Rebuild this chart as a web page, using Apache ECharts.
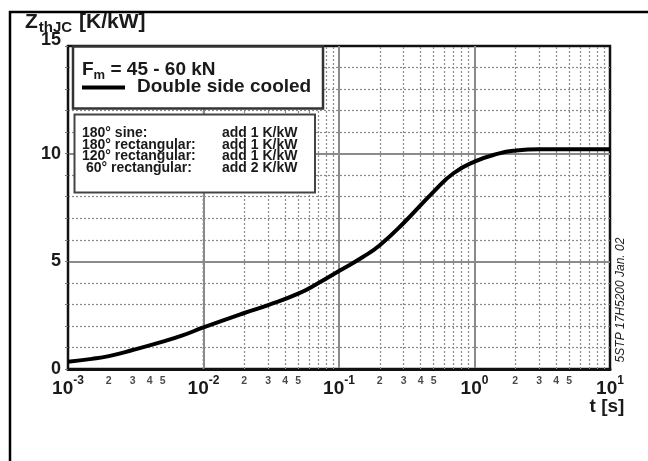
<!DOCTYPE html>
<html>
<head>
<meta charset="utf-8">
<style>
  html, body { margin: 0; padding: 0; background: #fff; }
  #chart { width: 648px; height: 461px; }
</style>
<script src="https://cdn.jsdelivr.net/npm/echarts@6/dist/echarts.min.js"></script>
</head>
<body>
<div id="chart"></div>
<script>
// t [s] vs Zth(j-c) [K/kW]
const timeS = [0.001, 0.0015, 0.002, 0.003, 0.005, 0.007, 0.01, 0.02, 0.03, 0.05, 0.07, 0.1, 0.15, 0.2, 0.3, 0.5, 0.7, 1, 1.5, 2, 3, 5, 10];
const zthJC = [0.34, 0.47, 0.6, 0.88, 1.27, 1.56, 1.93, 2.6, 2.97, 3.5, 3.98, 4.55, 5.2, 5.75, 6.78, 8.24, 9.09, 9.63, 10.0, 10.14, 10.2, 10.2, 10.2];

// dotted minor grid in every decade
const minorT = [
  0.002, 0.003, 0.004, 0.005, 0.006, 0.007, 0.008, 0.009,
  0.02, 0.03, 0.04, 0.05, 0.06, 0.07, 0.08, 0.09,
  0.2, 0.3, 0.4, 0.5, 0.6, 0.7, 0.8, 0.9,
  2, 3, 4, 5, 6, 7, 8, 9
];
// small "2 3 4 5" labels under the axis
const minorLabelT = [0.002, 0.003, 0.004, 0.005, 0.02, 0.03, 0.04, 0.05, 0.2, 0.3, 0.4, 0.5, 2, 3, 4, 5];
const minorLabelText = ['2', '3', '4', '5', '2', '3', '4', '5', '2', '3', '4', '5', '2', '3', '4', '5'];

const noteNames = ['180° sine:', '180° rectangular:', '120° rectangular:', ' 60° rectangular:'];
const noteAdds = ['add 1 K/kW', 'add 1 K/kW', 'add 1 K/kW', 'add 2 K/kW'];

const FONT = 'Liberation Sans';
const INK = '#1a1a1a';

var chart = echarts.init(document.getElementById('chart'));

var noteGraphics = [];
noteNames.forEach(function (n, i) {
  noteGraphics.push({
    type: 'text', x: 82, y: 133 + i * 11.7, silent: true, z: 11,
    style: { text: n, font: 'bold 14px ' + FONT, fill: INK, textVerticalAlign: 'middle' }
  });
  noteGraphics.push({
    type: 'text', x: 222, y: 133 + i * 11.7, silent: true, z: 11,
    style: { text: noteAdds[i], font: 'bold 14px ' + FONT, fill: INK, textVerticalAlign: 'middle' }
  });
});

var option = {
  animation: false,
  backgroundColor: '#fff',
  grid: {
    left: 68, top: 46, width: 542, height: 323,
    show: true, borderColor: '#111', borderWidth: 2.5, backgroundColor: 'transparent'
  },
  xAxis: {
    type: 'log',
    logBase: 10,
    min: 0.001,
    max: 10,
    axisLine: { show: true, lineStyle: { color: '#111', width: 3 } },
    axisTick: { show: false },
    splitLine: { show: true, showMinLine: false, showMaxLine: false, lineStyle: { color: '#8a8a8a', width: 2 } },
    axisLabel: {
      margin: 6,
      formatter: function (v) {
        return '{b|10}{s|' + Math.round(Math.log10(v)) + '}';
      },
      rich: {
        b: { fontFamily: FONT, fontWeight: 'bold', fontSize: 19, color: INK, verticalAlign: 'bottom' },
        s: { fontFamily: FONT, fontWeight: 'bold', fontSize: 12, color: INK, verticalAlign: 'bottom', padding: [0, 0, 11, 0] }
      }
    }
  },
  yAxis: {
    type: 'value',
    min: 0,
    max: 15,
    interval: 5,
    axisLine: { show: true, lineStyle: { color: '#111', width: 2 } },
    axisTick: { show: true, length: 3, lineStyle: { color: '#777' } },
    minorTick: { show: true, splitNumber: 5, length: 3, lineStyle: { color: '#777' } },
    splitLine: { show: true, showMinLine: false, showMaxLine: false, lineStyle: { color: '#8a8a8a', width: 2 } },
    minorSplitLine: { show: true, lineStyle: { color: '#8a8a8a', width: 1.2, type: [2, 2] } },
    axisLabel: {
      margin: 7,
      formatter: function (v) { return v === 15 ? '{t|' + v + '}' : '{n|' + v + '}'; },
      rich: {
        n: { fontFamily: FONT, fontWeight: 'bold', fontSize: 18, color: INK },
        t: { fontFamily: FONT, fontWeight: 'bold', fontSize: 18, color: INK, padding: [0, 0, 12, 0] }
      }
    }
  },
  series: [
    {
      type: 'scatter',
      z: 1,
      silent: true,
      clip: false,
      symbolSize: 1,
      itemStyle: { color: 'rgba(0,0,0,0)' },
      data: minorLabelT.map(function (t) { return [t, 0]; }),
      label: {
        show: true,
        position: 'bottom',
        distance: 6,
        fontFamily: FONT,
        fontWeight: 'bold',
        fontSize: 10.5,
        color: INK,
        formatter: function (p) { return minorLabelText[p.dataIndex]; }
      },
      markLine: {
        silent: true,
        symbol: ['none', 'none'],
        label: { show: false },
        lineStyle: { color: '#8a8a8a', width: 1.2, type: [2, 2] },
        emphasis: { disabled: true },
        data: minorT.map(function (t) { return { xAxis: t }; })
      }
    },
    {
      type: 'line',
      z: 5,
      smooth: true,
      showSymbol: false,
      silent: true,
      lineStyle: { color: '#000', width: 4 },
      data: timeS.map(function (t, i) { return [t, zthJC[i]]; })
    }
  ],
  graphic: [
    // outer sheet frame
    {
      type: 'rect', silent: true, z: 0,
      shape: { x: 10, y: 12, width: 660, height: 480 },
      style: { fill: 'none', stroke: '#000', lineWidth: 2.5 }
    },
    // axis title
    {
      type: 'text', x: 25, y: 12, silent: true,
      style: {
        text: '{z|Z}{s|thJC}{z| [K/kW]}',
        rich: {
          z: { fontFamily: FONT, fontWeight: 'bold', fontSize: 21, fill: INK, verticalAlign: 'top' },
          s: { fontFamily: FONT, fontWeight: 'bold', fontSize: 15, fill: INK, verticalAlign: 'top', padding: [8, 1, 0, 1] }
        }
      }
    },
    {
      type: 'text', x: 607, y: 407, silent: true,
      style: { text: 't [s]', font: 'bold 19px ' + FONT, fill: INK, textAlign: 'center', textVerticalAlign: 'middle' }
    },
    // legend box
    {
      type: 'rect', silent: true, z: 10,
      shape: { x: 73, y: 46.5, width: 250, height: 62 },
      style: { fill: '#fff', stroke: '#333', lineWidth: 2.5 }
    },
    {
      type: 'text', x: 82, y: 71, silent: true, z: 11,
      style: {
        text: '{f|F}{m|m}{f| = 45 - 60 kN}',
        textVerticalAlign: 'middle',
        rich: {
          f: { fontFamily: FONT, fontWeight: 'bold', fontSize: 19, fill: INK, verticalAlign: 'top' },
          m: { fontFamily: FONT, fontWeight: 'bold', fontSize: 13, fill: INK, verticalAlign: 'top', padding: [9, 0, 0, 0] }
        }
      }
    },
    {
      type: 'line', silent: true, z: 11,
      shape: { x1: 82, y1: 87.5, x2: 125, y2: 87.5 },
      style: { stroke: '#000', lineWidth: 4 }
    },
    {
      type: 'text', x: 137, y: 87, silent: true, z: 11,
      style: { text: 'Double side cooled', font: 'bold 19px ' + FONT, fill: INK, textVerticalAlign: 'middle' }
    },
    // notes box
    {
      type: 'rect', silent: true, z: 10,
      shape: { x: 74.5, y: 114.5, width: 240.5, height: 78 },
      style: { fill: '#fff', stroke: '#444', lineWidth: 2 }
    }
  ].concat(noteGraphics).concat([
    {
      type: 'text', x: 621, y: 300, rotation: Math.PI / 2, silent: true,
      style: { text: '5STP 17H5200 Jan. 02', font: 'italic 12px ' + FONT, fill: INK, textAlign: 'center', textVerticalAlign: 'middle' }
    }
  ])
};

chart.setOption(option);
</script>
</body>
</html>
